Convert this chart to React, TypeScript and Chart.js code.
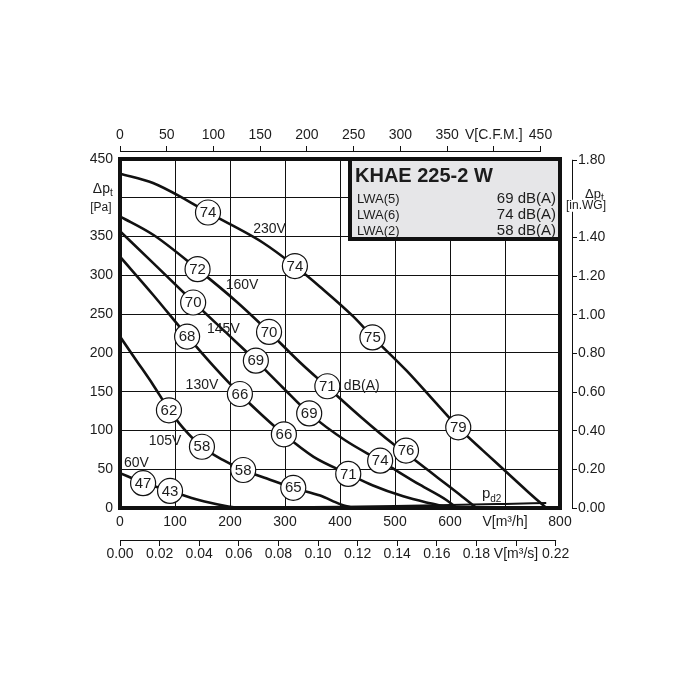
import React, { useEffect, useRef } from 'react';
import { Chart, registerables } from 'chart.js';

Chart.register(...registerables);

const FONT = '"Liberation Sans", Arial, Helvetica, sans-serif';
const INK = '#1c1c1c';

// ---- Fan curves: [flow m³/h, total pressure Pa] ----
const curve230V: [number, number][] = [
  [0, 431], [60, 419], [121, 397], [160, 381], [200, 366], [260, 342], [318, 312],
  [364, 285], [424, 247], [460, 220], [521, 177], [580, 131], [615, 104], [660, 74],
  [700, 48], [740, 22], [775, 0],
];
const curve160V: [number, number][] = [
  [0, 376], [61, 352], [141, 308], [212, 266], [271, 227], [327, 188], [377, 156],
  [440, 116], [494, 84], [536, 62], [576, 40], [618, 17], [648, 0],
];
const curve145V: [number, number][] = [
  [0, 357], [60, 316], [133, 266], [190, 228], [247, 190], [295, 156], [344, 122],
  [410, 87], [473, 61], [545, 30], [594, 10], [612, 0],
];
const curve130V: [number, number][] = [
  [0, 324], [60, 275], [122, 222], [170, 183], [218, 147], [258, 120], [298, 95],
  [352, 66], [415, 44], [460, 29], [515, 15], [564, 6], [602, 0],
];
const curve105V: [number, number][] = [
  [0, 221], [30, 190], [60, 159], [89, 127], [115, 103], [149, 79], [187, 62],
  [224, 49], [267, 38], [315, 26], [364, 16], [400, 5], [424, 0],
];
const curve60V: [number, number][] = [
  [0, 45], [41, 33], [91, 22], [145, 10], [190, 3], [215, 0],
];
// dynamic pressure p_d2
const curvePd2: [number, number][] = [
  [0, 0], [200, 0.4], [400, 1.7], [500, 2.7], [600, 3.9], [700, 5.3], [775, 6.4],
];

const fanCurves = [curve230V, curve160V, curve145V, curve130V, curve105V, curve60V];

// ---- Curve labels ----
const curveNames = ['230V', '160V', '145V', '130V', '105V', '60V'];
const curveNameFlow = [272, 222, 188, 149, 82, 30];
const curveNamePa = [360, 287, 230, 159, 86, 58];

// ---- Sound level markers (dB(A)) ----
const markerFlow = [160, 318, 459, 615, 141, 271, 377, 520, 133, 247, 344, 473, 122, 218, 298, 415, 89, 149, 224, 315, 42, 91];
const markerPa = [381, 312, 220, 104, 308, 227, 157, 74, 265, 190, 122, 61, 221, 147, 95, 44, 126, 79, 49, 26, 32, 22];
const markerDb = [74, 74, 75, 79, 72, 70, 71, 76, 70, 69, 69, 74, 68, 66, 66, 71, 62, 58, 58, 65, 47, 43];

// ---- Axis ticks ----
const flowTicksM3h = [0, 100, 200, 300, 400, 500, 600, 700, 800];
const flowLabelsM3h = ['0', '100', '200', '300', '400', '500', '600', 'V[m³/h]', '800'];
const flowTicksCfm = [0, 50, 100, 150, 200, 250, 300, 350, 400, 450];
const flowLabelsCfm = ['0', '50', '100', '150', '200', '250', '300', '350', 'V[C.F.M.]', '450'];
const flowTicksM3s = [0, 0.02, 0.04, 0.06, 0.08, 0.1, 0.12, 0.14, 0.16, 0.18, 0.2, 0.22];
const flowLabelsM3s = ['0.00', '0.02', '0.04', '0.06', '0.08', '0.10', '0.12', '0.14', '0.16', '0.18', 'V[m³/s]', '0.22'];
const pressTicksPa = [0, 50, 100, 150, 200, 250, 300, 350, 400, 450];
const pressLabelsPa = ['0', '50', '100', '150', '200', '250', '300', '350', '', '450'];
const pressTicksInWG = [0, 0.2, 0.4, 0.6, 0.8, 1.0, 1.2, 1.4, 1.6, 1.8];
const pressLabelsInWG = ['0.00', '0.20', '0.40', '0.60', '0.80', '1.00', '1.20', '1.40', '', '1.80'];

// ---- Legend box ----
const boxTitle = 'KHAE 225-2 W';
const boxNames = ['LWA(5)', 'LWA(6)', 'LWA(2)'];
const boxValues = ['69 dB(A)', '74 dB(A)', '58 dB(A)'];

const FLOW_MAX = 800;
const PA_MAX = 450;
const M3H_PER_CFM = 1.699;
const PA_PER_INWG = 249.089;

const overlayPlugin = {
  id: 'overlay',
  afterDatasetsDraw(chart: any) {
    const { ctx, chartArea, scales } = chart;
    const sx = scales.x;
    const sy = scales.y;
    ctx.save();

    // marker numbers
    const meta = chart.getDatasetMeta(0);
    ctx.fillStyle = INK;
    ctx.font = `15px ${FONT}`;
    ctx.textAlign = 'center';
    ctx.textBaseline = 'middle';
    meta.data.forEach((el: any, i: number) => {
      ctx.fillText(String(markerDb[i]), el.x, el.y + 0.5);
    });

    // curve names
    ctx.font = `14px ${FONT}`;
    curveNames.forEach((n, i) => {
      ctx.fillText(n, sx.getPixelForValue(curveNameFlow[i]), sy.getPixelForValue(curveNamePa[i]));
    });
    ctx.textAlign = 'left';
    ctx.fillText('dB(A)', sx.getPixelForValue(407), sy.getPixelForValue(157));

    // p_d2
    ctx.textBaseline = 'alphabetic';
    const px = sx.getPixelForValue(658);
    const py = sy.getPixelForValue(13);
    ctx.font = `15px ${FONT}`;
    ctx.fillText('p', px, py);
    const pw = ctx.measureText('p').width;
    ctx.font = `10px ${FONT}`;
    ctx.fillText('d2', px + pw, py + 4);

    // frame
    ctx.strokeStyle = '#111';
    ctx.lineWidth = 4;
    ctx.strokeRect(chartArea.left, chartArea.top, chartArea.right - chartArea.left, chartArea.bottom - chartArea.top);

    // legend box
    const bw = 210;
    const bh = 80;
    const bx = chartArea.right - bw;
    const by = chartArea.top;
    ctx.fillStyle = '#e6e6e8';
    ctx.fillRect(bx, by, bw, bh);
    ctx.strokeRect(bx, by, bw, bh);
    ctx.fillStyle = INK;
    ctx.font = `bold 20px ${FONT}`;
    ctx.textAlign = 'left';
    ctx.fillText(boxTitle, bx + 5, by + 23);
    boxNames.forEach((n, i) => {
      const yy = by + 44 + i * 16;
      ctx.font = `13px ${FONT}`;
      ctx.textAlign = 'left';
      ctx.fillText(n, bx + 7, yy);
      ctx.font = `15px ${FONT}`;
      ctx.textAlign = 'right';
      ctx.fillText(boxValues[i], chartArea.right - 4, yy);
    });

    ctx.restore();
  },
  afterDraw(chart: any) {
    const { ctx, scales } = chart;
    const sy = scales.y;
    const yw = scales.yw;
    const xc = scales.xc;
    const xs = scales.xs;
    ctx.save();
    ctx.strokeStyle = '#111';
    ctx.lineWidth = 1;
    // axis lines of secondary scales (span the tick range)
    ctx.beginPath();
    const ct = Math.round(xc.bottom) - 0.5;
    ctx.moveTo(xc.getPixelForValue(flowTicksCfm[0]), ct);
    ctx.lineTo(xc.getPixelForValue(flowTicksCfm[flowTicksCfm.length - 1]) + 0.5, ct);
    const st = Math.round(xs.top) + 0.5;
    ctx.moveTo(xs.getPixelForValue(flowTicksM3s[0]), st);
    ctx.lineTo(xs.getPixelForValue(flowTicksM3s[flowTicksM3s.length - 1]) + 0.5, st);
    const wl = Math.round(yw.left) + 0.5;
    ctx.moveTo(wl, yw.getPixelForValue(pressTicksInWG[pressTicksInWG.length - 1]) - 0.5);
    ctx.lineTo(wl, yw.getPixelForValue(0) + 0.5);
    ctx.stroke();

    const yp = sy.getPixelForValue(400);
    ctx.fillStyle = INK;
    ctx.textBaseline = 'alphabetic';
    // left axis title
    ctx.font = `14px ${FONT}`;
    ctx.textAlign = 'right';
    ctx.fillText('Δp', sy.right - 10, yp - 4.5);
    ctx.textAlign = 'left';
    ctx.font = `10px ${FONT}`;
    ctx.fillText('t', sy.right - 10, yp - 1.5);
    ctx.font = `12px ${FONT}`;
    ctx.textAlign = 'right';
    ctx.fillText('[Pa]', sy.right - 8.5, yp + 13);

    // right axis title
    ctx.font = `13px ${FONT}`;
    ctx.textAlign = 'left';
    const rx = yw.left + 13;
    ctx.fillText('Δp', rx, yp);
    const dw = ctx.measureText('Δp').width;
    ctx.font = `10px ${FONT}`;
    ctx.fillText('t', rx + dw, yp + 3);
    ctx.font = `12px ${FONT}`;
    const lbl = '[in.WG]';
    const lw = ctx.measureText(lbl).width;
    ctx.fillStyle = '#fff';
    ctx.fillRect(yw.left - 6, yp + 2, lw, 12);
    ctx.fillStyle = INK;
    ctx.fillText(lbl, yw.left - 6, yp + 11);
    ctx.restore();
  },
};

function setTicks(values: number[]) {
  return (scale: any) => {
    scale.ticks = values.map((v) => ({ value: v }));
  };
}

export default function App() {
  const ref = useRef<HTMLCanvasElement>(null);

  useEffect(() => {
    const canvas = ref.current;
    if (!canvas) return;
    Chart.defaults.font.family = FONT;
    Chart.defaults.color = INK;

    const toPts = (c: [number, number][]) => c.map(([x, y]) => ({ x, y }));
    const lineDs = (c: [number, number][], width: number, order: number) => ({
      type: 'line' as const,
      data: toPts(c),
      borderColor: '#111',
      borderWidth: width,
      pointRadius: 0,
      cubicInterpolationMode: 'monotone' as const,
      fill: false,
      order,
      xAxisID: 'x',
      yAxisID: 'y',
    });

    const tickFont = { size: 14, family: FONT };
    const hidden = {
      display: true,
      min: 0,
      max: 1,
      ticks: { display: false },
      grid: { display: false },
      border: { display: false },
    };

    const chart = new Chart(canvas, {
      type: 'line',
      data: {
        datasets: [
          {
            type: 'line',
            data: markerFlow.map((x, i) => ({ x, y: markerPa[i] })),
            showLine: false,
            pointRadius: 12.5,
            pointHoverRadius: 12.5,
            pointBackgroundColor: '#ffffff',
            pointBorderColor: '#111',
            pointBorderWidth: 1.2,
            order: 0,
            xAxisID: 'x',
            yAxisID: 'y',
          } as any,
          lineDs(curvePd2, 2, 1),
          ...fanCurves.map((c) => lineDs(c, 2.6, 2)),
        ],
      },
      options: {
        responsive: false,
        animation: false,
        events: [],
        layout: { padding: 0 },
        plugins: { legend: { display: false }, tooltip: { enabled: false } },
        scales: {
          x: {
            type: 'linear',
            axis: 'x',
            position: 'bottom',
            weight: 0,
            min: 0,
            max: FLOW_MAX,
            afterBuildTicks: setTicks(flowTicksM3h),
            afterFit: (s: any) => { s.height = 32; },
            ticks: {
              autoSkip: false, maxRotation: 0, minRotation: 0, padding: 6, font: tickFont, color: INK,
              callback: (_v: any, i: number) => flowLabelsM3h[i],
            },
            grid: { color: '#111', lineWidth: 1, drawTicks: false },
            border: { display: false },
          },
          xs: {
            type: 'linear',
            axis: 'x',
            position: 'bottom',
            weight: 1,
            min: 0,
            max: FLOW_MAX / 3600,
            afterBuildTicks: setTicks(flowTicksM3s),
            afterFit: (s: any) => { s.height = 160; },
            ticks: {
              autoSkip: false, maxRotation: 0, minRotation: 0, padding: 0, font: tickFont, color: INK,
              callback: (_v: any, i: number) => flowLabelsM3s[i],
            },
            grid: { drawOnChartArea: false, drawTicks: true, tickLength: 6, color: '#111', lineWidth: 1 },
            border: { display: false },
          },
          xgap: {
            ...hidden,
            type: 'linear',
            axis: 'x',
            position: 'top',
            weight: 0,
            afterFit: (s: any) => { s.height = 7; },
          },
          xc: {
            type: 'linear',
            axis: 'x',
            position: 'top',
            weight: 1,
            min: 0,
            max: FLOW_MAX / M3H_PER_CFM,
            afterBuildTicks: setTicks(flowTicksCfm),
            afterFit: (s: any) => { s.height = 152; },
            ticks: {
              autoSkip: false, maxRotation: 0, minRotation: 0, padding: 2, font: tickFont, color: INK,
              callback: (_v: any, i: number) => flowLabelsCfm[i],
            },
            grid: { drawOnChartArea: false, drawTicks: true, tickLength: 6, color: '#111', lineWidth: 1 },
            border: { display: false },
          },
          y: {
            type: 'linear',
            axis: 'y',
            position: 'left',
            weight: 0,
            min: 0,
            max: PA_MAX,
            afterBuildTicks: setTicks(pressTicksPa),
            afterFit: (s: any) => { s.width = 120; },
            ticks: {
              autoSkip: false, padding: 7, font: tickFont, color: INK,
              callback: (_v: any, i: number) => pressLabelsPa[i],
            },
            grid: { color: '#111', lineWidth: 1, drawTicks: false },
            border: { display: false },
          },
          ygap: {
            ...hidden,
            type: 'linear',
            axis: 'y',
            position: 'right',
            weight: 0,
            afterFit: (s: any) => { s.width = 12; },
          },
          yw: {
            type: 'linear',
            axis: 'y',
            position: 'right',
            weight: 1,
            min: 0,
            max: PA_MAX / PA_PER_INWG,
            afterBuildTicks: setTicks(pressTicksInWG),
            afterFit: (s: any) => { s.width = 128; },
            ticks: {
              autoSkip: false, padding: 1, font: tickFont, color: INK,
              callback: (_v: any, i: number) => pressLabelsInWG[i],
            },
            grid: {
              drawOnChartArea: false, drawTicks: true, tickLength: 5, lineWidth: 1,
              tickColor: (c: any) => (c.tick && pressLabelsInWG[c.index] === '' ? 'rgba(0,0,0,0)' : '#111'),
              color: '#111',
            },
            border: { display: false },
          },
        } as any,
      },
      plugins: [overlayPlugin],
    });

    return () => chart.destroy();
  }, []);

  return (
    <div style={{ position: 'fixed', left: 0, top: 0, width: 700, height: 700, background: '#fff' }}>
      <canvas ref={ref} width={700} height={700} style={{ width: 700, height: 700, display: 'block' }} />
    </div>
  );
}
